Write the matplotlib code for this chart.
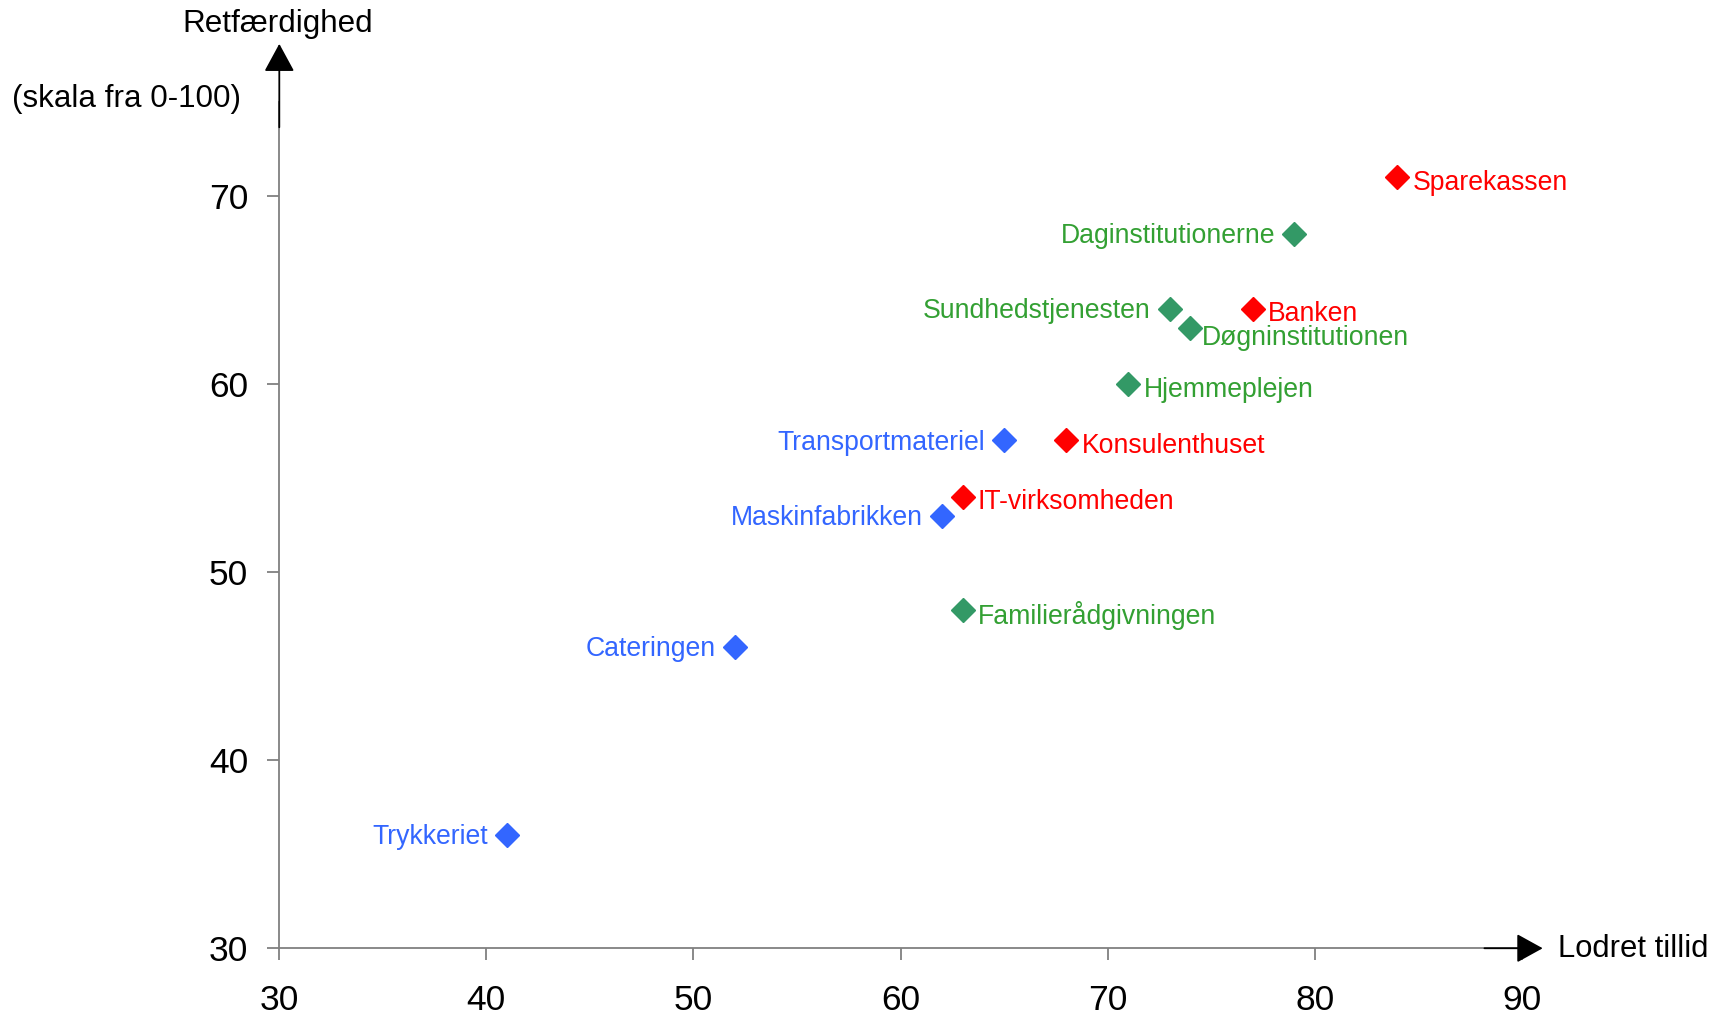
import matplotlib
matplotlib.use("Agg")
import matplotlib.pyplot as plt

plt.rcParams['font.family'] = ['Liberation Sans', 'DejaVu Sans']

names = ["Sparekassen", "Banken", "Konsulenthuset", "IT-virksomheden",
         "Daginstitutionerne", "Sundhedstjenesten", "Døgninstitutionen", "Hjemmeplejen", "Familierådgivningen",
         "Transportmateriel", "Maskinfabrikken", "Cateringen", "Trykkeriet"]
x_vals = [84, 77, 68, 63, 79, 73, 74, 71, 63, 65, 62, 52, 41]
y_vals = [71, 64, 57, 54, 68, 64, 63, 60, 48, 57, 53, 46, 36]
groups = ["red", "red", "red", "red", "green", "green", "green", "green", "green",
          "blue", "blue", "blue", "blue"]
# label side: r = right, l = left, rb = right-below
sides = ["r", "r", "r", "r", "l", "l", "rb", "r", "r", "l", "l", "l", "l"]
x_ticks = [30, 40, 50, 60, 70, 80, 90]
y_ticks = [30, 40, 50, 60, 70]

marker_col = {"red": "#FF0000", "green": "#339966", "blue": "#3366FF"}
text_col = {"red": "#FF0000", "green": "#33A033", "blue": "#3366FF"}

fig = plt.figure(figsize=(17.25, 10.17), dpi=100)
ax = fig.add_axes([279.3 / 1725, 0.0676, (1521.7 - 279.3) / 1725, 0.8998 - 0.0676])
ax.set_xlim(30, 90)
ax.set_ylim(30, 75)

for n, x, y, g, s in zip(names, x_vals, y_vals, groups, sides):
    ax.plot(x, y, marker='D', ms=12, mew=1, color=marker_col[g], mec=marker_col[g], ls='none',
            clip_on=False, zorder=3)
    if s == "r":
        ax.annotate(n, (x, y), xytext=(11, -4), textcoords='offset points', ha='left', va='center',
                    color=text_col[g], fontsize=19.2)
    elif s == "l":
        ax.annotate(n, (x, y), xytext=(-13.5, -1.5), textcoords='offset points', ha='right', va='center',
                    color=text_col[g], fontsize=19.2)
    else:
        ax.annotate(n, (x, y), xytext=(8.5, -7.5), textcoords='offset points', ha='left', va='center',
                    color=text_col[g], fontsize=19.2)

for sp in ['top', 'right']:
    ax.spines[sp].set_visible(False)
for sp in ['left', 'bottom']:
    ax.spines[sp].set_color('#808080')
    ax.spines[sp].set_linewidth(1.3)

ax.set_xticks(x_ticks)
ax.set_yticks(y_ticks)
ax.set_xticklabels([str(t) for t in x_ticks], fontsize=25.5)
ax.set_yticklabels([str(t) for t in y_ticks], fontsize=25.5)
ax.tick_params(axis='x', direction='out', length=8.4, width=1.3, color='#808080', pad=17)
ax.tick_params(axis='y', direction='out', length=8.4, width=1.3, color='#808080', pad=14)

# arrows
ax.annotate('', xy=(1.0169, 0), xycoords='axes fraction', xytext=(0.970, 0),
            arrowprops=dict(arrowstyle='-|>,head_length=1.63,head_width=0.9', color='black', lw=1.3,
                            shrinkA=0, shrinkB=0))
ax.annotate('', xy=(0, 1.0686), xycoords='axes fraction', xytext=(0, 0.97),
            arrowprops=dict(arrowstyle='-|>,head_length=1.75,head_width=0.95', color='black', lw=1.3,
                            shrinkA=0, shrinkB=0))

fig.text(1558 / 1725, 1 - 956.7 / 1017, "Lodret tillid", fontsize=22.3, ha='left', va='baseline')
fig.text(278 / 1725, 1 - 32 / 1017, "Retfærdighed", fontsize=22.6, ha='center', va='baseline')
fig.text(126 / 1725, 1 - 107 / 1017, "(skala fra 0-100)", fontsize=22.6, ha='center', va='baseline')

fig.savefig("out.png", dpi=100)
